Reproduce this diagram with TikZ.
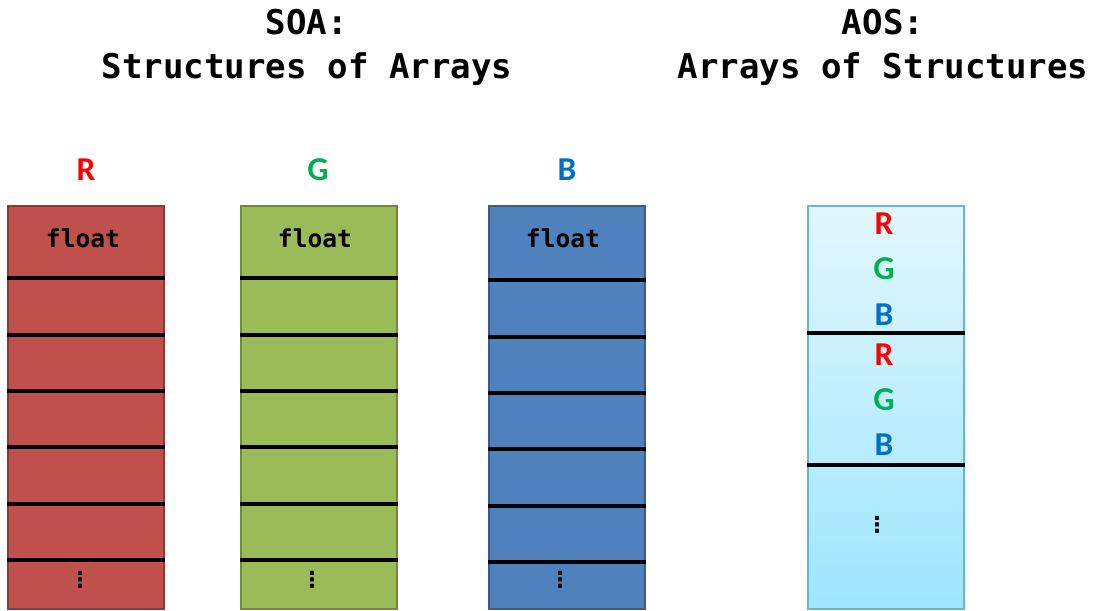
\documentclass[tikz,border=0pt]{standalone}
\usepackage{fontspec}
\setmainfont{Carlito}
\setmonofont{DejaVu Sans Mono}
\newfontfamily\symfont{DejaVu Sans}
\usetikzlibrary{positioning}
\definecolor{rcol}{HTML}{FF0000}
\definecolor{gcol}{HTML}{00B050}
\definecolor{bcol}{HTML}{0070C0}
\definecolor{redfill}{HTML}{C0504D}
\definecolor{reddraw}{HTML}{8C3836}
\definecolor{greenfill}{HTML}{9BBB59}
\definecolor{greendraw}{HTML}{71893F}
\definecolor{bluefill}{HTML}{4F81BD}
\definecolor{bluedraw}{HTML}{385D8A}
\definecolor{aostop}{HTML}{E2F7FE}
\definecolor{aosbot}{HTML}{9EE6FE}
\definecolor{aosdraw}{HTML}{5DB9D6}
\tikzstyle{title} = [font=\ttfamily\bfseries\fontsize{19.4}{25}\selectfont, align=center]
\tikzstyle{chan} = [font=\bfseries\fontsize{19}{22}\selectfont]
\tikzstyle{ctype} = [font=\ttfamily\bfseries\fontsize{14}{16}\selectfont]
\tikzstyle{arr} = [rectangle, minimum width=3.12cm, minimum height=8.06cm, inner sep=0, line width=0.8pt]
\tikzstyle{redarr} = [arr, fill=redfill, draw=reddraw]
\tikzstyle{greenarr} = [arr, fill=greenfill, draw=greendraw]
\tikzstyle{bluearr} = [arr, fill=bluefill, draw=bluedraw]
\tikzstyle{aosarr} = [arr, top color=aostop, bottom color=aosbot, draw=aosdraw]
\tikzstyle{sep} = [black, line width=2.3pt]
\tikzstyle{more} = [font=\symfont\bfseries\fontsize{12.5}{14}\selectfont, inner sep=1pt]

\begin{document}
\begin{tikzpicture}
	\useasboundingbox (0,0) rectangle (21.88,-12.22);
	\node (soa_title) at (6.14,-0.94) [title] {SOA:\\Structures of Arrays};
	\node (aos_title) at (17.66,-0.94) [title] {AOS:\\Arrays of Structures};

	% SOA: one array per channel
	\node (r_label) at (1.72,-3.4) [chan, text=rcol] {R};
	\node (g_label) at (6.36,-3.4) [chan, text=gcol] {G};
	\node (b_label) at (11.34,-3.4) [chan, text=bcol] {B};

	\node (r_arr) at (1.72,-8.15) [redarr] {};
	\node (g_arr) at (6.38,-8.15) [greenarr] {};
	\node (b_arr) at (11.34,-8.15) [bluearr] {};

	\foreach \y in {-5.56,-6.70,-7.82,-8.94,-10.08,-11.20}{
		\draw [sep] (r_arr.west |- 0,\y) -- (r_arr.east |- 0,\y);
		\draw [sep] (g_arr.west |- 0,\y) -- (g_arr.east |- 0,\y);
		\draw [sep] ([yshift=-0.04cm]b_arr.west |- 0,\y) -- ([yshift=-0.04cm]b_arr.east |- 0,\y);
	}

	\node (r_float) at (1.66,-4.76) [ctype] {float};
	\node (g_float) at (6.3,-4.76) [ctype] {float};
	\node (b_float) at (11.26,-4.76) [ctype] {float};

	\node (r_more) at (1.6,-11.6) [more] {⋮};
	\node (g_more) at (6.24,-11.6) [more] {⋮};
	\node (b_more) at (11.2,-11.6) [more] {⋮};

	% AOS: one array of RGB structures
	\node (aos_arr) at (17.72,-8.15) [aosarr] {};
	\draw [sep] (aos_arr.west |- 0,-6.66) -- (aos_arr.east |- 0,-6.66);
	\draw [sep] (aos_arr.west |- 0,-9.30) -- (aos_arr.east |- 0,-9.30);

	\node (s1_r) at (17.68,-4.48) [chan, text=rcol] {R};
	\node (s1_g) at (17.68,-5.38) [chan, text=gcol] {G};
	\node (s1_b) at (17.68,-6.30) [chan, text=bcol] {B};
	\node (s2_r) at (17.68,-7.10) [chan, text=rcol] {R};
	\node (s2_g) at (17.68,-8.00) [chan, text=gcol] {G};
	\node (s2_b) at (17.68,-8.90) [chan, text=bcol] {B};
	\node (aos_more) at (17.54,-10.5) [more] {⋮};
\end{tikzpicture}
\end{document}
